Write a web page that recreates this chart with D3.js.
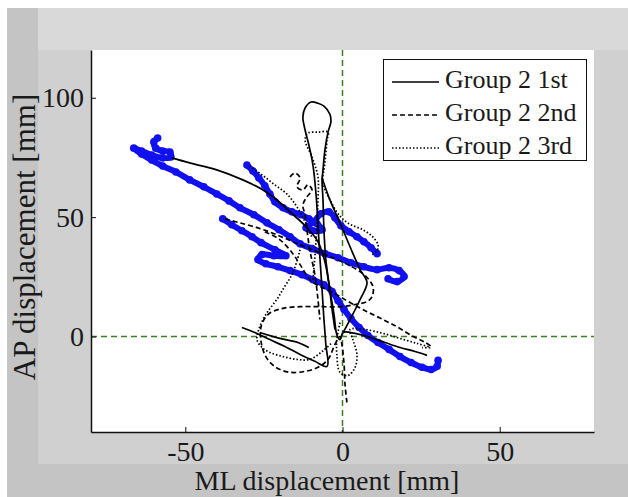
<!DOCTYPE html>
<html>
<head>
<meta charset="utf-8">
<script src="https://cdn.jsdelivr.net/npm/d3@7"></script>
<style>
  body { margin: 0; background: #fff; }
  text { font-family: "Liberation Serif", "Times New Roman", serif; fill: #1a1a1a; }
</style>
</head>
<body>
<div id="chart"></div>
<script>
// tick values and labels
const xTicks = [-50, 0, 50];
const yTicks = [0, 50, 100];
const xLabel = "ML displacement [mm]";
const yLabel = "AP displacement [mm]";
const legendLabels = ["Group 2 1st", "Group 2 2nd", "Group 2 3rd"];

// Group 2 1st (solid) - pieces of the trace, [ML, AP] in mm
const group2First = [
  [[-54.3,74.8],[-48.6,72.7],[-40.0,69.8],[-31.7,65.6],[-25.3,61.4],[-21.2,57.6],[-16.7,52.2],
   [-11.9,46.4],[-7.8,39.7],[-5.6,31.3],[-4.3,21.7],[-3.3,11.3],[-2.4,2.9]],
  [[-32.0,3.8],[-27.9,1.7],[-23.1,-1.3],[-18.3,-4.2],[-13.5,-7.5],[-8.8,-10.4],[-4.9,-12.5],
   [-5.3,-3.3],[-5.9,7.1],[-6.5,19.6],[-7.2,33.4],[-7.8,46.8],[-8.4,59.3],[-9.4,71.8],
   [-10.7,80.2],[-11.9,86.5],[-12.6,91.9],[-11.9,95.7],[-10.0,98.2],[-7.8,97.7],[-5.9,96.5],
   [-4.0,93.1],[-3.7,89.8],[-4.6,85.6],[-5.6,78.1],[-6.2,69.8],[-6.5,65.6],[-6.2,57.2],
   [-5.9,44.7],[-5.3,32.2],[-4.0,19.6],[-2.7,9.2],[-1.8,0.8],[-0.8,-1.3],[0.2,1.7],
   [4.0,1.3],[8.8,-0.4],[13.5,-2.5],[18.3,-4.6],[23.1,-6.3],[26.9,-7.9]],
  [[-6.5,66.4],[-4.0,57.2],[-0.8,47.6],[2.4,37.6],[5.6,28.0],[7.8,22.6],[5.6,15.5],[2.4,7.1],[0.2,1.7]],
  [[-26.3,1.7],[-19.9,-0.8],[-14.2,-2.5],[-10.7,-4.6]]
];

// Group 2 2nd (dashed)
const group2Second = [
  [[-37.4,49.3],[-32.6,47.6],[-26.9,45.5],[-20.9,42.6],[-15.1,39.3],[-8.8,35.9],[-2.4,32.6],
   [3.0,29.2],[7.2,25.5],[9.7,20.9],[9.4,16.7],[7.8,14.6],[4.0,13.4],[-0.8,12.5],[-7.2,12.5],
   [-13.5,12.5],[-19.3,11.7],[-23.7,9.2],[-25.9,4.2],[-25.9,-2.1],[-24.4,-8.4],[-21.2,-12.9],
   [-16.7,-15.0],[-11.9,-14.6],[-7.8,-12.9],[-4.6,-9.6],[-2.4,-3.3],[-0.8,0],[-0.2,-3.3],
   [0.5,-11.7],[0.8,-20.1],[1.4,-27.6]],
  [[-24.7,43.9],[-19.9,40.5],[-15.8,34.7],[-13.5,30.1],[-9.7,23.0],[-3.0,18.4],[2.4,14.2],
   [7.8,10.4],[12.9,7.1],[17.7,3.8],[22.5,0],[26.3,-2.5],[28.8,-4.6]],
  [[-16.7,66.8],[-15.1,68.5],[-13.5,66.4],[-14.5,62.7],[-12.6,61.4],[-11.0,63.5],[-9.7,61.4],
   [-11.3,58.5],[-12.6,55.1],[-11.9,51.0],[-11.3,44.7],[-10.4,36.3],[-8.8,25.9],[-7.8,15.5],[-7.2,7.1]]
];

// Group 2 3rd (dotted)
const group2Third = [
  [[-9.4,23.8],[-8.4,40.5],[-7.8,57.2],[-7.8,66.8],[-9.7,75.2],[-11.9,82.3],[-11.0,85.2],
   [-7.8,85.6],[-4.6,85.6],[-4.9,82.3],[-5.6,72.7],[-6.2,64.3],[-3.9,57.0],[-0.8,50.4],
   [2.4,47.0],[6.2,44.9],[9.4,42.0],[11.3,38.4],[11.0,35.9],[9.4,34.3]],
  [[-29.5,71.4],[-25.6,67.7],[-21.5,63.5],[-17.7,59.7],[-14.5,54.3],[-11.9,48.0],[-9.7,41.4]],
  [[-13.5,36.3],[-15.8,26.7],[-18.6,20.5],[-20.9,15.5],[-24.0,10.0],[-26.3,4.2],[-27.2,-1.3],
   [-25.6,-4.6],[-23.1,-6.7],[-18.9,-8.4],[-14.5,-9.6],[-10.4,-9.6],[-6.5,-6.3],[-3.3,-2.5]],
  [[-0.8,5.8],[-1.8,-1.3],[-1.8,-7.5],[-0.8,-15.0],[1.8,-16.3],[4.0,-12.9],[4.6,-7.5],[3.3,-1.3],
   [2.4,2.9],[7.2,2.9],[12.9,1.3],[18.3,-0.8],[23.7,-2.9],[27.9,-4.6],[25.3,-4.6]]
];

// blue marker trace
const blueTrace = [
  [[-58.8,83.1],[-60.0,81.5],[-59.4,78.9],[-57.2,77.7],[-54.9,77.3],[-54.6,75.2],[-57.2,74.8],
   [-60.7,76.0],[-63.9,77.7],[-66.4,78.9],[-63.9,76.4],[-60.7,73.9],[-57.2,71.4],[-53.0,68.9],
   [-48.6,65.6],[-44.1,62.7],[-40.0,59.7],[-36.1,56.8],[-32.6,53.9],[-28.2,51.0],[-24.0,47.6],
   [-20.2,44.7],[-16.7,41.8],[-13.5,38.8],[-9.7,36.8],[-5.6,34.7],[-1.4,33.0],[2.7,30.9],
   [6.8,29.2],[11.0,28.0],[14.8,28.8],[18.0,27.6],[19.6,25.1],[17.4,23.0],[14.5,24.2]],
  [[-30.4,71.8],[-28.5,69.3],[-26.6,66.4],[-24.7,63.1],[-23.1,59.7],[-21.5,56.4],[-18.9,53.9],
   [-16.1,52.2],[-13.2,51.0],[-10.7,49.3],[-8.1,47.2],[-6.5,44.7],[-9.4,44.3],[-11.6,45.5],
   [-9.1,48.0],[-6.9,51.4],[-4.3,52.2],[-2.4,49.7],[-0.5,46.4],[2.1,43.9],[4.6,41.8],
   [6.8,39.7],[9.1,37.2],[11.0,34.7]],
  [[-38.1,49.3],[-35.2,46.8],[-32.0,44.3],[-28.8,41.8],[-25.9,39.3],[-21.5,36.3],[-18.0,33.8],
   [-21.8,33.8],[-25.6,34.3],[-26.9,32.2],[-24.4,30.5],[-20.5,29.2],[-16.7,27.6],[-12.9,25.9],
   [-9.4,23.8],[-5.9,21.7],[-3.3,18.8],[-1.4,15.0],[0.5,11.3],[2.7,7.5],[5.3,3.8],[8.1,0.4],
   [11.3,-2.5],[14.8,-5.4],[18.3,-8.4],[21.8,-10.9],[25.3,-12.9],[28.2,-13.8],[30.1,-12.5],[30.4,-10.0]]
];

const W = 628, H = 497;
const margin = { top: 50, right: 34, bottom: 65, left: 91 };

const svg = d3.select("#chart").append("svg")
  .attr("width", W)
  .attr("height", H);

// window frame greys
svg.append("rect").attr("x", 7).attr("y", 8).attr("width", W - 7).attr("height", H - 8).attr("fill", "#c4c4c4");
svg.append("rect").attr("x", 38).attr("y", 8).attr("width", W - 38).attr("height", 456).attr("fill", "#d0d0d0");
svg.append("rect").attr("x", 38).attr("y", 8).attr("width", W - 38).attr("height", 42).attr("fill", "#d9d9d9");

const x = d3.scaleLinear().domain([-80, 80]).range([margin.left, W - margin.right]);
const y = d3.scaleLinear().domain([-40, 120]).range([H - margin.bottom, margin.top]);

// white plot area
svg.append("rect")
  .attr("x", x(-80)).attr("y", y(120))
  .attr("width", x(80) - x(-80)).attr("height", y(-40) - y(120))
  .attr("fill", "#fff");

// green reference lines through the origin
svg.append("line")
  .attr("x1", x(0)).attr("x2", x(0)).attr("y1", y(120)).attr("y2", y(-40))
  .attr("stroke", "#3f7f1f").attr("stroke-width", 1.5).attr("stroke-dasharray", "6,4");
svg.append("line")
  .attr("x1", x(-80)).attr("x2", x(80)).attr("y1", y(0)).attr("y2", y(0))
  .attr("stroke", "#3f7f1f").attr("stroke-width", 1.5).attr("stroke-dasharray", "6,4");

const line = d3.line()
  .x(d => x(d[0]))
  .y(d => y(d[1]))
  .curve(d3.curveCatmullRom.alpha(0.5));

// blue trace: thick line with round markers
const blue = svg.append("g");
blue.selectAll("path")
  .data(blueTrace)
  .enter().append("path")
  .attr("d", line)
  .attr("fill", "none")
  .attr("stroke", "#1010f0")
  .attr("stroke-width", 6)
  .attr("stroke-linecap", "round")
  .attr("stroke-linejoin", "round");
blue.selectAll("circle")
  .data(blueTrace.flat())
  .enter().append("circle")
  .attr("cx", d => x(d[0]))
  .attr("cy", d => y(d[1]))
  .attr("r", 3.8)
  .attr("fill", "#1010f0");

const styles = [
  { data: group2First, dash: null },
  { data: group2Second, dash: "5,3" },
  { data: group2Third, dash: "1.5,2" }
];

styles.forEach(s => {
  svg.append("g").selectAll("path")
    .data(s.data)
    .enter().append("path")
    .attr("d", line)
    .attr("fill", "none")
    .attr("stroke", "#000")
    .attr("stroke-width", 1.7)
    .attr("stroke-dasharray", s.dash);
});

// axes (plain hyphen for negatives, like the original)
const fmt = d => String(d);
const xAxis = svg.append("g")
  .attr("transform", "translate(0," + y(-40) + ")")
  .call(d3.axisBottom(x).tickValues(xTicks).tickFormat(fmt).tickSizeInner(-5).tickSizeOuter(0).tickPadding(9));
const yAxis = svg.append("g")
  .attr("transform", "translate(" + x(-80) + ",0)")
  .call(d3.axisLeft(y).tickValues(yTicks).tickFormat(fmt).tickSizeInner(-5).tickSizeOuter(0).tickPadding(7));

[xAxis, yAxis].forEach(a => {
  a.select(".domain").attr("stroke", "#111").attr("stroke-width", 1.5);
  a.selectAll(".tick line").attr("stroke", "#111").attr("stroke-width", 1);
  a.selectAll(".tick text")
    .attr("font-family", "Liberation Serif, Times New Roman, serif")
    .attr("font-size", 28)
    .attr("fill", "#1a1a1a");
});

// axis titles
svg.append("text")
  .attr("x", 327).attr("y", 490)
  .attr("text-anchor", "middle")
  .attr("font-size", 28)
  .text(xLabel);
svg.append("text")
  .attr("transform", "translate(35,237) rotate(-90)")
  .attr("text-anchor", "middle")
  .attr("font-size", 31)
  .text(yLabel);

// legend
const legend = svg.append("g");
legend.append("rect")
  .attr("x", 383.5).attr("y", 59.5)
  .attr("width", 203).attr("height", 101)
  .attr("fill", "#fff").attr("stroke", "#111").attr("stroke-width", 1);

legendLabels.forEach((label, i) => {
  const cy = 82 + i * 33;
  legend.append("line")
    .attr("x1", 392).attr("x2", 439).attr("y1", cy).attr("y2", cy)
    .attr("stroke", "#000").attr("stroke-width", 1.6)
    .attr("stroke-dasharray", styles[i].dash);
  legend.append("text")
    .attr("x", 445).attr("y", cy + 6)
    .attr("font-size", 26)
    .text(label);
});
</script>
</body>
</html>
